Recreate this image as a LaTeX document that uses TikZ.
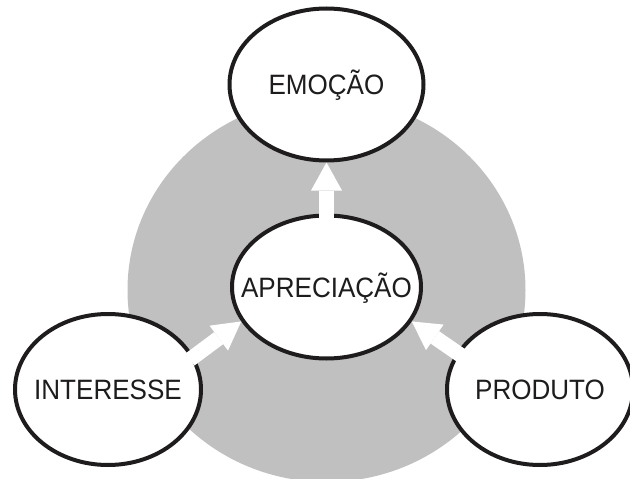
\documentclass[tikz,border=0pt]{standalone}
\usepackage{fontspec}
\setmainfont{Liberation Sans}[FakeStretch=0.93]
\usetikzlibrary{arrows.meta,shapes.geometric}
\definecolor{bggray}{RGB}{192,192,192}
\definecolor{inkblack}{RGB}{30,28,28}
\tikzset{
  bubble/.style={ellipse, draw=inkblack, line width=4pt, fill=white, inner sep=0pt,
    text=inkblack, font=\fontsize{28}{30}\selectfont, text height=20pt, text depth=0pt},
  blockarrow/.style={draw=white, line width=15pt, shorten <=-5pt,
    -{Triangle[length=28pt,width=31pt,line width=0pt]}}
}
\begin{document}
\begin{tikzpicture}[x=1pt,y=-1pt]
\useasboundingbox (0,0) rectangle (630,479);
\fill[bggray] (326.5,290) ellipse [x radius=199, y radius=192];
\node[bubble, minimum width=194pt, minimum height=152pt] (emo) at (326.5,84.5) {\makebox[0pt]{EMOÇÃO}};
\node[bubble, minimum width=189pt, minimum height=143pt] (apr) at (326.5,287) {\makebox[0pt]{APRECIAÇÃO}};
\node[bubble, minimum width=186pt, minimum height=151pt] (int) at (108,389.5) {\makebox[0pt]{INTERESSE}};
\node[bubble, minimum width=186pt, minimum height=151pt] (prod) at (540,389.5) {\makebox[0pt]{PRODUTO}};
\draw[blockarrow] (apr.north) -- (emo.south);
\draw[blockarrow] (int.21) -- (apr.202);
\draw[blockarrow] (prod.156) -- (apr.338);
\end{tikzpicture}
\end{document}
